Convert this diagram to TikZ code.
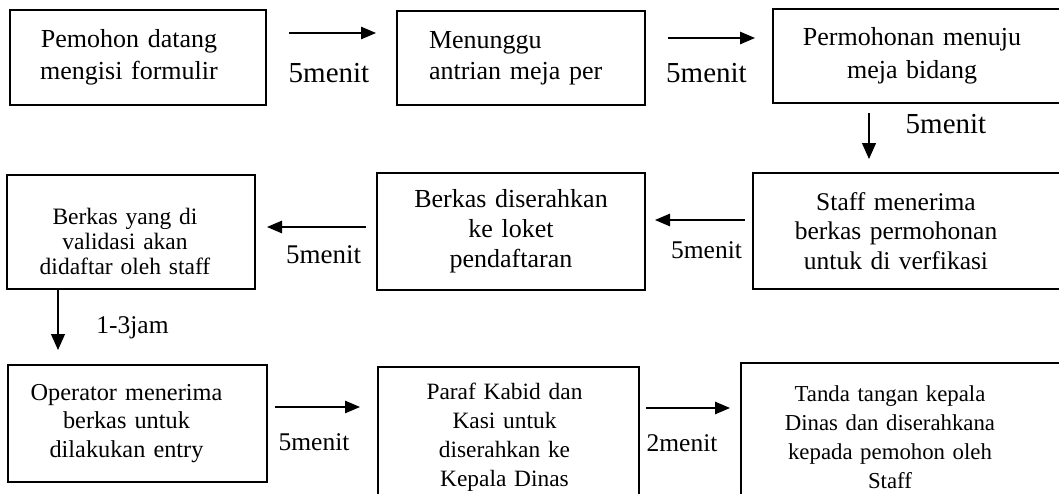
\documentclass[tikz,border=0pt]{standalone}
\usepackage{fontspec}
\setmainfont{Liberation Serif}
\usetikzlibrary{arrows.meta}
\newcommand\fsz[2]{\fontsize{#1}{#2}\selectfont}
\newcommand\cshift[1]{\parindent=0pt\relax\leftskip=0pt plus 1fil\relax\rightskip=#1 plus 1fil\relax\parfillskip=0pt\relax}
\begin{document}
\begin{tikzpicture}[x=1pt,y=-1pt,
  box/.style={draw, line width=2pt, inner sep=0pt, align=center},
  arr/.style={-{Triangle[length=15pt,width=12.5pt]}, line width=1.2pt},
  varr/.style={-{Triangle[length=16pt,width=14pt]}, line width=1.2pt},
  lab/.style={inner sep=0pt, anchor=base}]
\useasboundingbox (0,0) rectangle (1059,493);
\clip (0,0) rectangle (1059,493);
% row 1
\node[box, minimum width=256, minimum height=95, text width=240, font=\fsz{26}{32}] (A) at (138,57.5)
  {\cshift{18pt}Pemohon datang\\mengisi formulir\par};
\node[box, minimum width=248, minimum height=94, text width=184, align=left, font=\fsz{26}{31}] (B) at (521,58)
  {Menunggu\\antrian meja per};
\node[box, minimum width=302, minimum height=94, text width=260, font=\fsz{26}{33}] (C) at (924,56)
  {\cshift{24pt}Permohonan menuju\\meja bidang\par};
% row 2
\node[box, minimum width=248, minimum height=114, text width=230, font=\fsz{23.5}{25}] (D) at (131,232)
  {\cshift{12pt}\rule{0pt}{35pt}Berkas yang di\\validasi akan\\didaftar oleh staff\par};
\node[box, minimum width=268, minimum height=117, text width=250, font=\fsz{26}{30}] (E) at (511,231.5)
  {Berkas diserahkan\\ke loket\\pendaftaran};
\node[box, minimum width=322, minimum height=116, text width=290, font=\fsz{25.5}{29.5}] (F) at (914,231)
  {\cshift{36pt}Staff menerima\\berkas permohonan\\untuk di verfikasi\par};
% row 3
\node[box, minimum width=259, minimum height=117, text width=245, font=\fsz{24.3}{28.5}] (G) at (137.5,423.5)
  {\cshift{22pt}Operator menerima\\berkas untuk\\dilakukan entry\par};
\node[box, minimum width=261, minimum height=150, text width=245, font=\fsz{23.4}{29}] (H) at (508.5,442)
  {\cshift{8pt}Paraf Kabid dan\\Kasi untuk\\diserahkan ke\\Kepala Dinas\rule[-14pt]{0pt}{1pt}\par};
\node[box, minimum width=334, minimum height=148, text width=300, font=\fsz{22.8}{29}] (I) at (908,437)
  {\cshift{36pt}Tanda tangan kepala\\Dinas dan diserahkana\\kepada pemohon oleh\\Staff\par};
% connector end points
\coordinate (a1s) at (289,33);   \coordinate (a1e) at (376,33);
\coordinate (a2s) at (668,38);   \coordinate (a2e) at (755,38);
\coordinate (a3s) at (869,113);  \coordinate (a3e) at (869,159);
\coordinate (a4s) at (366,227);  \coordinate (a4e) at (267,227);
\coordinate (a5s) at (745,220);  \coordinate (a5e) at (655,220);
\coordinate (a6s) at (58,290);   \coordinate (a6e) at (58,350);
\coordinate (a7s) at (275,407);  \coordinate (a7e) at (360,407);
\coordinate (a8s) at (646,408);  \coordinate (a8e) at (730,408);
\draw[arr] (a1s) -- (a1e);
\draw[arr] (a2s) -- (a2e);
\draw[varr] (a3s) -- (a3e);
\draw[arr] (a4s) -- (a4e);
\draw[arr] (a5s) -- (a5e);
\draw[varr] (a6s) -- (a6e);
\draw[arr] (a7s) -- (a7e);
\draw[arr] (a8s) -- (a8e);
% labels
\node[lab, font=\fsz{29}{30}] (l1) at (329,82) {5menit};
\node[lab, font=\fsz{29}{30}] (l2) at (706.5,82) {5menit};
\node[lab, font=\fsz{29}{30}] (l3) at (946,133) {5menit};
\node[lab, font=\fsz{27}{28}] (l4) at (323.5,263) {5menit};
\node[lab, font=\fsz{25.5}{27}] (l5) at (706.5,258) {5menit};
\node[lab, font=\fsz{25.5}{27}] (l6) at (132.5,333) {1-3jam};
\node[lab, font=\fsz{25.5}{27}] (l7) at (314,450) {5menit};
\node[lab, font=\fsz{25.5}{27}] (l8) at (682,451) {2menit};
\end{tikzpicture}
\end{document}
